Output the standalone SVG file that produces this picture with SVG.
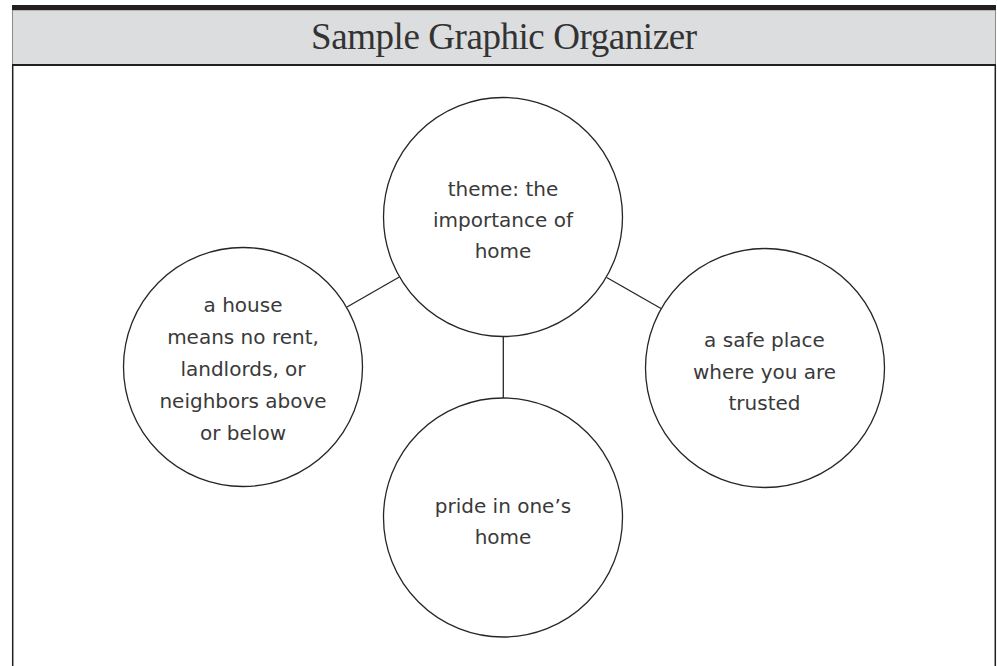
<svg xmlns="http://www.w3.org/2000/svg" width="997" height="666" viewBox="0 0 997 666">
<style>
.node circle{fill:#fff;stroke:#262626;stroke-width:1.3}
.lbl{font-family:"DejaVu Sans","Liberation Sans",sans-serif;font-size:20px;fill:#3a3a3a;text-anchor:middle}
.conn line{stroke:#262626;stroke-width:1.3}
</style>
<rect x="0" y="0" width="997" height="666" fill="#fff"/>
<g id="frame">
<rect x="12.5" y="10" width="983" height="55" fill="#dcdddf" stroke="#8a8a8a" stroke-width="1"/>
<rect x="12" y="5" width="984" height="5" fill="#231f20"/>
<line x1="12" y1="65" x2="996" y2="65" stroke="#231f20" stroke-width="2"/>
<line x1="12.7" y1="65" x2="12.7" y2="666" stroke="#231f20" stroke-width="1.5"/>
<line x1="995.3" y1="65" x2="995.3" y2="666" stroke="#231f20" stroke-width="1.5"/>
<text x="504" y="49" font-family="'Liberation Serif','DejaVu Serif',serif" font-size="37" fill="#333" text-anchor="middle" textLength="386">Sample Graphic Organizer</text>
</g>
<g id="connectors" class="conn">
<line x1="399.3" y1="277" x2="347" y2="307"/>
<line x1="606.7" y1="277.5" x2="661" y2="308.5"/>
<line x1="503.3" y1="336.5" x2="503.3" y2="398.5"/>
</g>
<g id="node-theme" class="node">
<circle cx="503" cy="217" r="119.5"/>
<text class="lbl" x="503" y="196">theme: the</text>
<text class="lbl" x="503" y="227">importance of</text>
<text class="lbl" x="503" y="258">home</text>
</g>
<g id="node-house" class="node">
<circle cx="243" cy="367" r="119.5"/>
<text class="lbl" x="243" y="312">a house</text>
<text class="lbl" x="243" y="344">means no rent,</text>
<text class="lbl" x="243" y="376">landlords, or</text>
<text class="lbl" x="243" y="408">neighbors above</text>
<text class="lbl" x="243" y="440">or below</text>
</g>
<g id="node-safe" class="node">
<circle cx="765" cy="368" r="119.5"/>
<text class="lbl" x="764.5" y="347">a safe place</text>
<text class="lbl" x="764.5" y="379">where you are</text>
<text class="lbl" x="764.5" y="410">trusted</text>
</g>
<g id="node-pride" class="node">
<circle cx="503" cy="517.5" r="119.5"/>
<text class="lbl" x="503" y="513">pride in one’s</text>
<text class="lbl" x="503" y="544">home</text>
</g>
</svg>
